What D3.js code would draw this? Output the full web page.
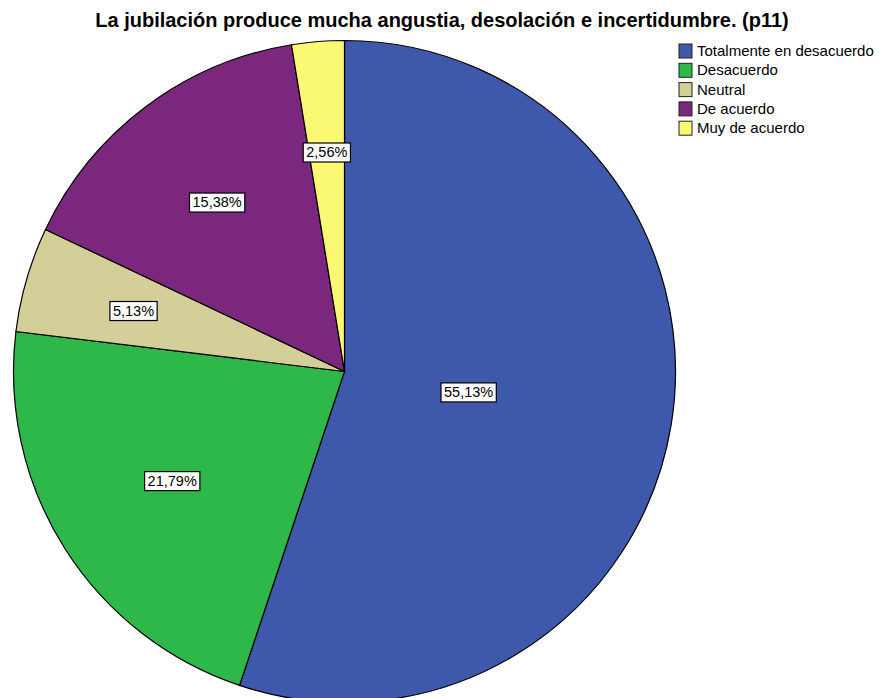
<!DOCTYPE html>
<html>
<head>
<meta charset="utf-8">
<script src="https://cdn.jsdelivr.net/npm/d3@7"></script>
<style>
  body { margin: 0; background: #fff; }
  svg { display: block; font-family: "Liberation Sans", Arial, sans-serif; }
</style>
</head>
<body>
<div id="chart"></div>
<script>
// data
var categories = ["Totalmente en desacuerdo", "Desacuerdo", "Neutral", "De acuerdo", "Muy de acuerdo"];
var percents = [55.13, 21.79, 5.13, 15.38, 2.56];
var colors = ["#3e58ac", "#2fb84a", "#d4cf98", "#7b277e", "#fbf874"];
var title = "La jubilación produce mucha angustia, desolación e incertidumbre. (p11)";

var width = 884, height = 698;
var cx = 344.5, cy = 371.5, radius = 331;

var svg = d3.select("#chart").append("svg")
    .attr("width", width)
    .attr("height", height);

// title
svg.append("text")
    .attr("x", 442)
    .attr("y", 27)
    .attr("text-anchor", "middle")
    .style("font-size", "20px")
    .style("font-weight", "bold")
    .text(title);

var data = categories.map(function(c, i){
    return {name: c, value: percents[i], color: colors[i]};
});

var pie = d3.pie().sort(null).value(function(d){ return d.value; });
var arc = d3.arc().innerRadius(0).outerRadius(radius);

var g = svg.append("g").attr("transform", "translate(" + cx + "," + cy + ")");

var arcs = pie(data);

g.selectAll("path.slice")
    .data(arcs)
    .enter().append("path")
    .attr("class", "slice")
    .attr("d", arc)
    .attr("fill", function(d){ return d.data.color; })
    .attr("stroke", "#000")
    .attr("stroke-width", 1.2);

// labels at the area centroid of each slice
var fmt = function(v){ return v.toFixed(2).replace(".", ",") + "%"; };

var labels = g.selectAll("g.lbl")
    .data(arcs)
    .enter().append("g")
    .attr("class", "lbl")
    .attr("transform", function(d){
        var a = d.endAngle - d.startAngle;
        var mid = (d.startAngle + d.endAngle) / 2;
        var r = 4 * radius * Math.sin(a / 2) / (3 * a);
        return "translate(" + (r * Math.sin(mid)) + "," + (-r * Math.cos(mid)) + ")";
    });

labels.append("text")
    .attr("text-anchor", "middle")
    .attr("dy", "0.36em")
    .style("font-size", "14.5px")
    .text(function(d){ return fmt(d.data.value); });

labels.each(function(){
    var t = d3.select(this).select("text");
    var b = t.node().getBBox();
    d3.select(this).insert("rect", "text")
        .attr("x", b.x - 3)
        .attr("y", b.y - 1)
        .attr("width", b.width + 6)
        .attr("height", b.height + 3)
        .attr("fill", "#fff")
        .attr("stroke", "#000")
        .attr("stroke-width", 1.2);
});

// legend
var legend = svg.append("g").attr("transform", "translate(679,44)");
var item = legend.selectAll("g")
    .data(data)
    .enter().append("g")
    .attr("transform", function(d, i){ return "translate(0," + (i * 19.3) + ")"; });

item.append("rect")
    .attr("width", 13)
    .attr("height", 14)
    .attr("fill", function(d){ return d.color; })
    .attr("stroke", "#222")
    .attr("stroke-width", 1);

item.append("text")
    .attr("x", 18)
    .attr("y", 12)
    .style("font-size", "15px")
    .text(function(d){ return d.name; });
</script>
</body>
</html>
